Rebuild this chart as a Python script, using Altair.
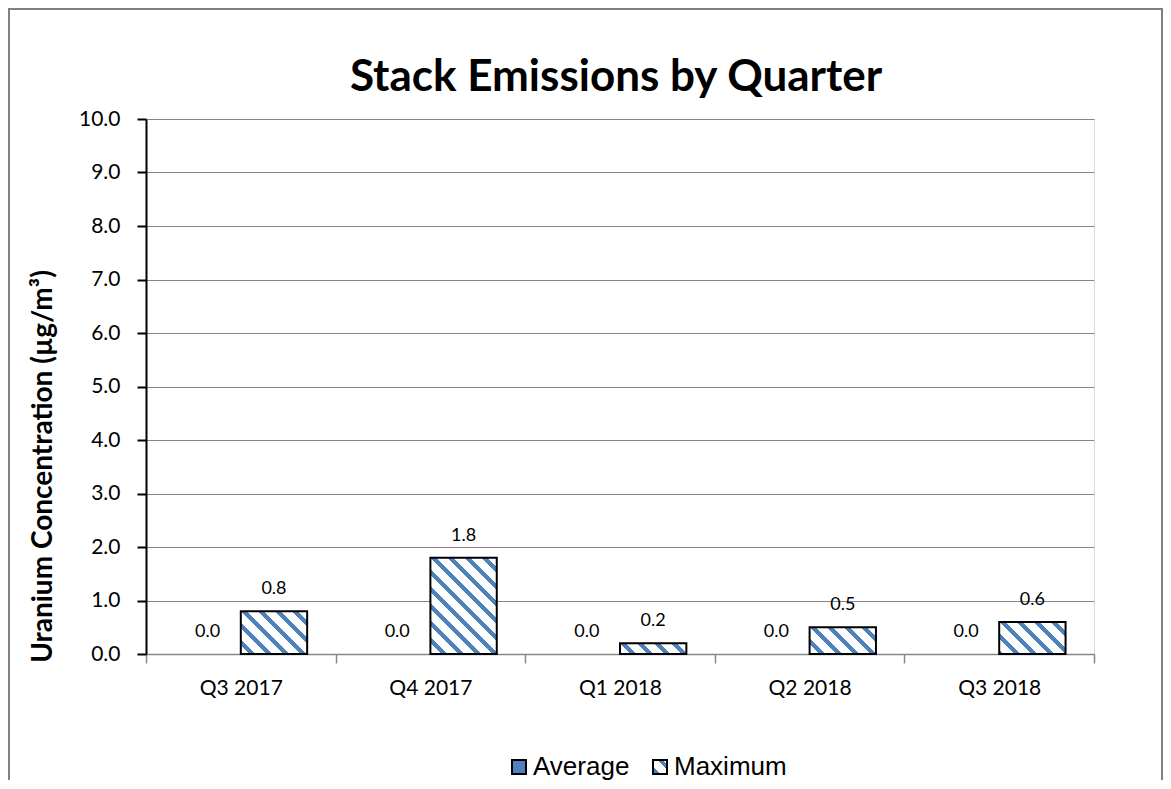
import json
import math
import altair as alt
import pandas as pd

# ---------------- data ----------------
quarters = ["Q3 2017", "Q4 2017", "Q1 2018", "Q2 2018", "Q3 2018"]
average = [0.0, 0.0, 0.0, 0.0, 0.0]
maximum = [0.8, 1.8, 0.2, 0.5, 0.6]
series = ["Average", "Maximum"]
y_ticks = [0, 1, 2, 3, 4, 5, 6, 7, 8, 9, 10]

# ---------------- layout / style ----------------
BLUE = "#4F81BD"
GRID = "#868686"
PLOT_W, PLOT_H = 948, 535
Y_MAX = 10
PX_PER_UNIT = PLOT_H / Y_MAX
STEP = PLOT_W / len(quarters)
BAR_W = STEP * 0.7 / 2
OFFSET_OUTER = 0.3 / 0.7  # 2 bars fill 70 % of each quarter's band


def stripe_gradient(w, h, period=17.0, stripe=6.0, phase=0.0):
    """Diagonal (top-left -> bottom-right) stripes as a sharp-stop linear gradient."""
    w = max(w, 0.5)
    h = max(h, 0.5)
    total = w + h
    s = total / (w * w + h * h)

    def off(p):
        return round(min(max((p + h) / total, 0.0), 1.0), 5)

    stops = []
    m = math.floor((-h - phase) / period) - 1
    while True:
        start = m * period + phase
        if start > w:
            break
        if start + period >= -h:
            b0, b1, b2 = off(start), off(start + stripe), off(start + period)
            stops += [
                {"offset": b0, "color": BLUE},
                {"offset": b1, "color": BLUE},
                {"offset": b1, "color": "#FFFFFF"},
                {"offset": b2, "color": "#FFFFFF"},
            ]
        m += 1
    g = {
        "gradient": "linear",
        "x1": 0,
        "y1": 1,
        "x2": round(s * w, 6),
        "y2": round(1 - s * h, 6),
        "stops": stops,
    }
    return {"expr": json.dumps(g)}


rows = []
for q, a, mx in zip(quarters, average, maximum):
    rows.append({"Quarter": q, "Series": "Average", "Value": a, "Key": "Average"})
    rows.append({"Quarter": q, "Series": "Maximum", "Value": mx, "Key": "Maximum|" + q})
df = pd.DataFrame(rows)

keys = ["Average", "Maximum"] + ["Maximum|" + q for q in quarters]
fills = [BLUE, stripe_gradient(14, 14, period=17, stripe=6, phase=4)] + [
    stripe_gradient(BAR_W, v * PX_PER_UNIT) for v in maximum
]

base = alt.Chart(df).encode(
    x=alt.X(
        "Quarter:N",
        sort=quarters,
        scale=alt.Scale(paddingInner=0, paddingOuter=0),
        axis=alt.Axis(
            title=None,
            labelAngle=0,
            tickBand="extent",
            domainColor=GRID,
            domainWidth=1.5,
            tickColor=GRID,
            tickWidth=1.5,
            tickSize=9,
            labelFont="Lato",
            labelFontSize=21,
            labelColor="black",
            labelPadding=14,
            grid=False,
        ),
    ),
    xOffset=alt.XOffset(
        "Series:N",
        sort=series,
        scale=alt.Scale(paddingInner=0, paddingOuter=OFFSET_OUTER),
    ),
    y=alt.Y(
        "Value:Q",
        scale=alt.Scale(domain=[0, Y_MAX], nice=False, zero=True),
        axis=alt.Axis(
            values=y_ticks,
            format=".1f",
            grid=True,
            gridColor=GRID,
            gridWidth=1,
            domainColor="black",
            domainWidth=2,
            tickColor="black",
            tickWidth=2,
            tickSize=9,
            labelFont="Lato",
            labelFontSize=21,
            labelColor="black",
            labelPadding=17,
            title="Uranium Concentration (µg/m³)",
            titleFont="Lato",
            titleFontSize=28,
            titleFontWeight="bold",
            titleColor="black",
            titleAngle=270,
            titleAlign="center",
            titleBaseline="middle",
            titleX=-103,
            titleY=347,
        ),
    ),
)

bars = base.mark_bar(strokeWidth=2).encode(
    fill=alt.Fill(
        "Key:N",
        scale=alt.Scale(domain=keys, range=fills),
        legend=alt.Legend(
            title=None,
            orient="none",
            direction="horizontal",
            legendX=360,
            legendY=635,
            values=["Average", "Maximum"],
            symbolType="square",
            symbolSize=196,
            symbolStrokeColor="black",
            symbolStrokeWidth=2,
            labelFont="Liberation Sans",
            labelFontSize=26,
            labelColor="black",
            labelOffset=1,
            columnPadding=17,
            padding=0,
        ),
    ),
    stroke=alt.condition(alt.datum.Value > 0, alt.value("black"), alt.value("transparent")),
)

labels = base.mark_text(
    font="Lato", fontSize=18, dy=-17, baseline="alphabetic", color="black"
).encode(text=alt.Text("Value:Q", format=".1f"))

frame = alt.Chart(alt.Data(values=[{"f": 1}])).mark_rect(
    filled=False, stroke="#808080", strokeWidth=2
).encode(
    x=alt.value(-137),
    x2=alt.value(1016),
    y=alt.value(-110),
    y2=alt.value(700),
)

chart = (
    alt.layer(frame, bars, labels)
    .properties(
        width=PLOT_W,
        height=PLOT_H,
        padding={"left": 138, "top": 111, "right": 69, "bottom": 126},
        autosize=alt.AutoSizeParams(type="none"),
        title=alt.TitleParams(
            "Stack Emissions by Quarter",
            font="Lato",
            fontSize=44,
            fontWeight="bold",
            color="black",
            anchor="middle",
            frame="group",
            baseline="alphabetic",
            offset=-127,
            dx=-4,
        ),
    )
    .configure_view(stroke=None)
    .configure(background="white")
)

chart.save("out.html", embed_options={"renderer": "svg", "actions": False})
